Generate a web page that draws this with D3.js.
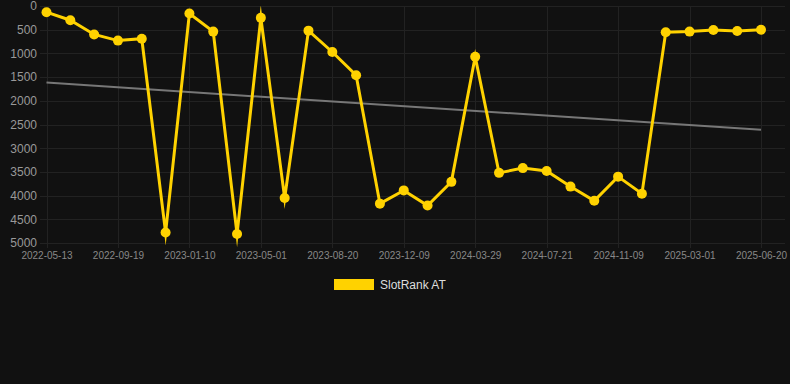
<!DOCTYPE html>
<html>
<head>
<meta charset="utf-8">
<script src="https://cdn.jsdelivr.net/npm/d3@7"></script>
<style>
  html, body { margin: 0; padding: 0; background: #111111; }
  svg { display: block; font-family: "Liberation Sans", Arial, sans-serif; }
</style>
</head>
<body>
<div id="chart"></div>
<script>
// data
const dates = [
  '2022-05-13', '2022-06-25', '2022-08-07', '2022-09-19', '2022-10-27', '2022-12-03',
  '2023-01-10', '2023-02-16', '2023-03-24', '2023-05-01', '2023-06-07', '2023-07-14',
  '2023-08-20', '2023-09-26', '2023-11-02', '2023-12-09', '2024-01-15', '2024-02-21',
  '2024-03-29', '2024-05-06', '2024-06-13', '2024-07-21', '2024-08-27', '2024-10-03',
  '2024-11-09', '2024-12-16', '2025-01-22', '2025-03-01', '2025-04-07', '2025-05-14',
  '2025-06-20'
];
const ranks = [
  130, 300, 600, 730, 690, 4780,
  160, 540, 4810, 250, 4050, 520,
  970, 1460, 4170, 3890, 4210, 3710,
  1070, 3520, 3420, 3480, 3810, 4110,
  3600, 3960, 555, 540, 505, 527,
  500
];
const trend = [1615, 2610]; // start / end of grey trend line
const yTicks = [0, 500, 1000, 1500, 2000, 2500, 3000, 3500, 4000, 4500, 5000];
const seriesName = 'SlotRank AT';

const W = 790, H = 384;
const margin = {top: 6, right: 29, bottom: 141, left: 46};

const svg = d3.select('#chart').append('svg')
  .attr('width', W)
  .attr('height', H);

svg.append('rect').attr('width', W).attr('height', H).attr('fill', '#111111');

let x = d3.scalePoint().domain(dates).range([margin.left + 0.5, W - margin.right]);
let y = d3.scaleLinear().domain([0, 5000]).range([margin.top, H - margin.bottom]);

let labelDates = dates.filter((d, i) => i % 3 === 0);

// grid
let grid = svg.append('g');
grid.selectAll('line.h').data(yTicks).enter().append('line')
  .attr('x1', 40).attr('x2', 785)
  .attr('y1', d => Math.round(y(d)) + 0.5).attr('y2', d => Math.round(y(d)) + 0.5)
  .attr('stroke', '#222').attr('stroke-width', 1);
grid.selectAll('line.v').data(labelDates).enter().append('line')
  .attr('x1', d => Math.round(x(d)) + 0.5).attr('x2', d => Math.round(x(d)) + 0.5)
  .attr('y1', margin.top).attr('y2', H - margin.bottom + 5)
  .attr('stroke', '#222').attr('stroke-width', 1);

// y axis
let yAxis = d3.axisLeft(y).tickValues(yTicks).tickFormat(d3.format('d')).tickSize(0).tickPadding(0);
svg.append('g')
  .attr('transform', 'translate(37,0)')
  .call(yAxis)
  .call(g => g.select('.domain').remove())
  .call(g => g.selectAll('text').attr('fill', '#999').attr('font-size', 12));

// x axis
let xAxis = d3.axisBottom(x).tickValues(labelDates).tickSize(0).tickPadding(0);
svg.append('g')
  .attr('transform', 'translate(0,' + (H - margin.bottom + 9) + ')')
  .call(xAxis)
  .call(g => g.select('.domain').remove())
  .call(g => g.selectAll('text').attr('fill', '#888').attr('font-size', 10));

// trend line
svg.append('line')
  .attr('x1', x(dates[0])).attr('y1', y(trend[0]))
  .attr('x2', x(dates[dates.length - 1])).attr('y2', y(trend[1]))
  .attr('stroke', '#777').attr('stroke-width', 2);

// series
let line = d3.line()
  .x((d, i) => x(dates[i]))
  .y(d => y(d));

svg.append('path')
  .datum(ranks)
  .attr('d', line)
  .attr('fill', 'none')
  .attr('stroke', '#ffd200')
  .attr('stroke-width', 3)
  .attr('stroke-linejoin', 'miter')
  .attr('stroke-miterlimit', 10);

svg.append('g').selectAll('circle').data(ranks).enter().append('circle')
  .attr('cx', (d, i) => x(dates[i]))
  .attr('cy', d => y(d))
  .attr('r', 5)
  .attr('fill', '#ffd200');

// legend
let legend = svg.append('g').attr('transform', 'translate(334,279)');
legend.append('rect').attr('width', 40).attr('height', 11).attr('fill', '#ffd200');
legend.append('text')
  .attr('x', 46).attr('y', 10)
  .attr('fill', '#ddd').attr('font-size', 12)
  .text(seriesName);
</script>
</body>
</html>
